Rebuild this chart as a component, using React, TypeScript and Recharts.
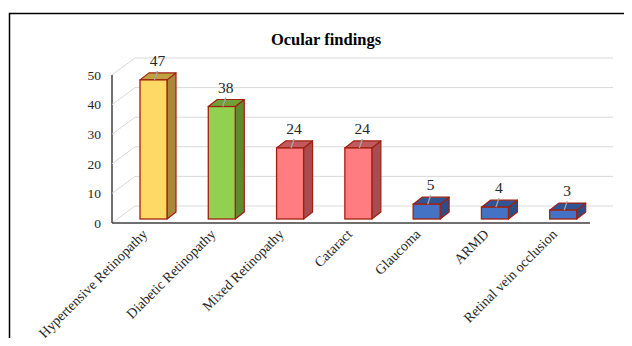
import React from "react";
import { BarChart, Bar, XAxis, YAxis, CartesianGrid } from "recharts";

// ---- data ----
const categories = [
  "Hypertensive Retinopathy",
  "Diabetic Retinopathy",
  "Mixed Retinopathy",
  "Cataract",
  "Glaucoma",
  "ARMD",
  "Retinal vein occlusion",
];
const values = [47, 38, 24, 24, 5, 4, 3];
const yTicks = [0, 10, 20, 30, 40, 50];
const title = "Ocular findings";

// ---- styles ----
const frontFill = ["#FFD966", "#92D050", "#FF7C80", "#FF7C80", "#4472C4", "#4472C4", "#4472C4"];
const sideFill = ["#A8893A", "#5E8A30", "#A84C4F", "#A84C4F", "#2E4C85", "#2E4C85", "#2E4C85"];
const topFill = ["#BFA043", "#70A038", "#C05A5E", "#C05A5E", "#2F5597", "#2F5597", "#2F5597"];
const OUTLINE = "#A0200E";
const FONT = "'Liberation Serif', 'Times New Roman', serif";

// ---- layout ----
const W = 632;
const H = 346;
const PLOT_TOP = 71;
const PLOT_LEFT = 119;
const PLOT_RIGHT = 597;
const PLOT_BOTTOM = 219;
const DEPTH_X = 9; // bar depth
const DEPTH_Y = 7;
const FRONT_DX = -7; // front plane offset relative to bar plane
const FRONT_DY = 4;
const BACK_DX = 16; // back wall offset relative to bar plane
const BACK_DY = -13;
const GRID_END = 613;

const data = categories.map((name, i) => ({ name, value: values[i] }));

const gridLine = (props: any) => {
  const y = props.y1;
  const fx = PLOT_LEFT + FRONT_DX;
  const bx = PLOT_LEFT + BACK_DX;
  const isFloor = Math.abs(y - PLOT_BOTTOM) < 0.6;
  return (
    <g key={props.key ?? `g-${y}`}>
      <line x1={fx} y1={y + FRONT_DY} x2={bx} y2={y + BACK_DY} stroke="#D9D9D9" strokeWidth={1} />
      <line x1={bx} y1={y + BACK_DY} x2={GRID_END} y2={y + BACK_DY} stroke="#D9D9D9" strokeWidth={1} />
      {isFloor && (
        <>
          <line x1={fx} y1={PLOT_TOP + FRONT_DY} x2={fx} y2={y + FRONT_DY} stroke="#404040" strokeWidth={1.5} />
          <line x1={fx} y1={y + FRONT_DY} x2={PLOT_RIGHT + FRONT_DX} y2={y + FRONT_DY} stroke="#404040" strokeWidth={1.5} />
        </>
      )}
    </g>
  );
};

const YTick = (props: any) => {
  const { y, payload } = props;
  return (
    <text x={101} y={y + FRONT_DY} dy="0.35em" textAnchor="end" fontSize={13.5} fontFamily={FONT} fill="#262626">
      {payload.value}
    </text>
  );
};

const XTick = (props: any) => {
  const { x, y, payload } = props;
  const ax = x - 5;
  const ay = y + 8;
  return (
    <text
      x={ax}
      y={ay}
      transform={`rotate(-45, ${ax}, ${ay})`}
      textAnchor="end"
      fontSize={14}
      fontFamily={FONT}
      fill="#262626"
    >
      {payload.value}
    </text>
  );
};

const Box3D = (props: any) => {
  const { x, y, width, height, index, value } = props;
  const i = index ?? 0;
  const cx = x + width / 2;
  const side = `${x + width},${y} ${x + width + DEPTH_X},${y - DEPTH_Y} ${x + width + DEPTH_X},${y + height - DEPTH_Y} ${x + width},${y + height}`;
  const top = `${x},${y} ${x + DEPTH_X},${y - DEPTH_Y} ${x + width + DEPTH_X},${y - DEPTH_Y} ${x + width},${y}`;
  return (
    <g>
      <polygon points={side} fill={sideFill[i]} stroke={OUTLINE} strokeWidth={1.2} strokeLinejoin="round" />
      <polygon points={top} fill={topFill[i]} stroke={OUTLINE} strokeWidth={1.2} strokeLinejoin="round" />
      <rect x={x} y={y} width={width} height={height} fill={frontFill[i]} stroke={OUTLINE} strokeWidth={1.3} />
      <line x1={cx + 1} y1={y} x2={cx + 4} y2={y - 9} stroke="#A6A6A6" strokeWidth={1.3} />
      <text x={cx + 4} y={y - 14} textAnchor="middle" fontSize={15.5} fontFamily={FONT} fill="#262626">
        {value}
      </text>
    </g>
  );
};

export default function App() {
  return (
    <div style={{ position: "relative", width: W, height: H, margin: -8, overflow: "hidden", background: "#fff" }}>
      <svg width={W} height={H} style={{ position: "absolute", left: 0, top: 0 }}>
        <path d={`M9.5,${H} V13.5 H${W}`} fill="none" stroke="#000" strokeWidth={1.5} />
        <text x={326} y={45} textAnchor="middle" fontSize={16.5} fontWeight="bold" fontFamily={FONT} fill="#000">
          {title}
        </text>
      </svg>
      <div style={{ position: "absolute", left: 0, top: 0 }}>
        <BarChart
          width={W}
          height={H}
          data={data}
          margin={{ top: PLOT_TOP, right: W - PLOT_RIGHT, bottom: 0, left: 0 }}
        >
          <CartesianGrid vertical={false} horizontal={gridLine} />
          <XAxis dataKey="name" height={H - PLOT_BOTTOM} axisLine={false} tickLine={false} tick={<XTick />} interval={0} />
          <YAxis width={PLOT_LEFT} domain={[0, 50]} ticks={yTicks} axisLine={false} tickLine={false} tick={<YTick />} />
          <Bar dataKey="value" barSize={27} shape={<Box3D />} isAnimationActive={false} />
        </BarChart>
      </div>
    </div>
  );
}
